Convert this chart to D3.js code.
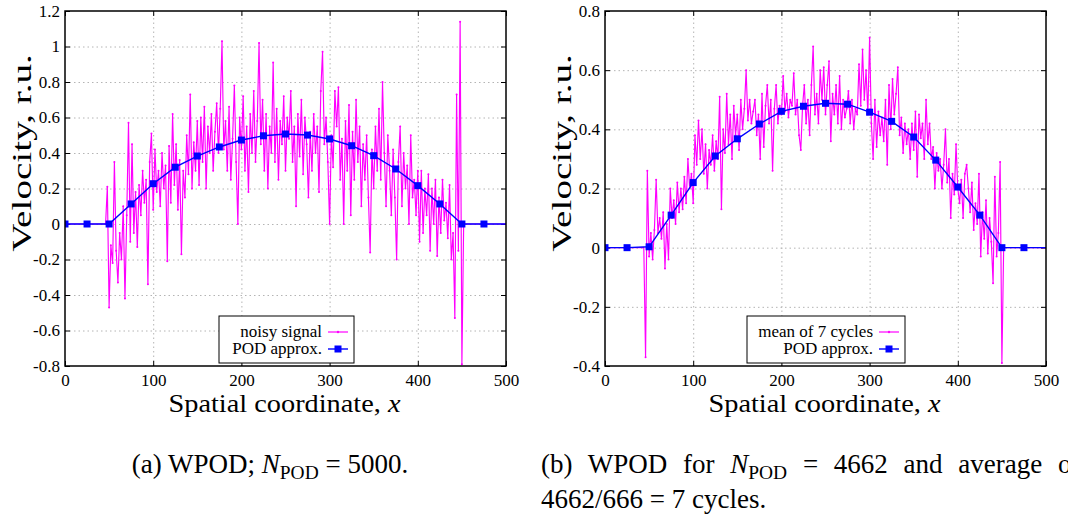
<!DOCTYPE html>
<html><head><meta charset="utf-8">
<script src="https://cdn.jsdelivr.net/npm/d3@7"></script>
<style>
body{margin:0;background:#fff}
svg{display:block;font-family:"Liberation Serif","Times New Roman",serif}
svg text{font-family:"Liberation Serif","Times New Roman",serif}
</style>
</head><body>
<svg id="c" width="1068" height="521"></svg>
<script>
// ---------- data ----------
const xTicks = [0, 100, 200, 300, 400, 500];
const xTickLabels = ["0", "100", "200", "300", "400", "500"];
const yTicksA = [-0.8, -0.6, -0.4, -0.2, 0, 0.2, 0.4, 0.6, 0.8, 1, 1.2];
const yTickLabelsA = ["-0.8", "-0.6", "-0.4", "-0.2", "0", "0.2", "0.4", "0.6", "0.8", "1", "1.2"];
const yTicksB = [-0.4, -0.2, 0, 0.2, 0.4, 0.6, 0.8];
const yTickLabelsB = ["-0.4", "-0.2", "0", "0.2", "0.4", "0.6", "0.8"];

const podX = [0, 25, 50, 75, 100, 125, 150, 175, 200, 225, 250, 275, 300, 325, 350, 375, 400, 425, 450, 475, 500];
const podA = [0, 0, 0, 0.113, 0.227, 0.32, 0.383, 0.434, 0.473, 0.497, 0.507, 0.501, 0.479, 0.441, 0.385, 0.31, 0.216, 0.113, 0, 0, 0];
const podB = [0, 0, 0.003, 0.11, 0.22, 0.31, 0.368, 0.418, 0.461, 0.478, 0.488, 0.485, 0.458, 0.427, 0.374, 0.296, 0.205, 0.11, 0, 0, 0];

// noisy samples start at x = 46, every 2 units, up to x = 450
const noiseStart = 46, noiseStep = 2;
const noiseA = [
  0.0, 0.21, -0.47, -0.12, -0.22, 0.35, -0.15, -0.33, -0.05, -0.2,
  0.1, -0.42, 0.05, 0.57, -0.1, 0.45, -0.05, 0.18, -0.13, 0.22,
  0.05, 0.3, 0.12, 0.25, -0.34, 0.35, 0.51, 0.08, 0.42, 0.18,
  0.3, 0.1, 0.4, 0.2, 0.33, -0.21, 0.44, 0.12, 0.62, 0.22,
  0.45, 0.08, 0.36, -0.17, 0.3, 0.15, 0.5, 0.28, 0.73, 0.2,
  0.46, 0.3, 0.58, 0.22, 0.6, 0.35, 0.66, 0.2, 0.55, 0.4,
  0.62, 0.3, 0.52, 0.68, 0.4, 0.65, 1.03, 0.42, 0.58, 0.3,
  0.66, 0.25, 0.48, 0.78, 0.35, 0.0, 0.6, 0.42, 0.72, 0.3,
  0.55, 0.18, 0.62, 0.4, 0.75, 0.35, 0.58, 1.02, 0.45, 0.7,
  0.3, 0.62, 0.2, 0.55, 0.4, 0.91, 0.35, 0.65, 0.25, 0.58,
  0.45, 0.72, 0.3, 0.6, 0.48, 0.75, 0.35, 0.55, 0.1, 0.62,
  0.38, 0.7, 0.28, 0.6, 0.45, 0.15, 0.52, 0.3, 0.62, 0.4,
  0.55, 0.18, 0.75, 0.97, 0.45, 0.6, 0.35, 0.0, 0.5, 0.32,
  0.75, 0.55, 0.77, 0.25, 0.48, 0.0, 0.58, 0.3, 0.67, 0.05,
  0.52, 0.25, 0.7, 0.35, 0.55, 0.1, 0.45, 0.25, 0.5, 0.15,
  -0.16, 0.42, 0.2, 0.55, 0.3, 0.65, 0.25, 0.8, 0.4, 0.1,
  0.5, 0.3, 0.05, 0.42, 0.15, -0.2, 0.35, 0.55, 0.1, 0.4,
  0.2, 0.33, 0.0, 0.5, 0.15, 0.25, 0.05, 0.3, -0.1, 0.3,
  -0.05, 0.2, 0.05, 0.28, -0.15, 0.2, 0.0, 0.25, -0.18, 0.15,
  -0.05, 0.25, 0.02, 0.12, -0.08, 0.22, -0.2, -0.05, -0.53, 0.73,
  -0.15, 1.14, -0.79
];
const noiseB = [
  -0.37, 0.26, -0.03, 0.05, -0.04, 0.06, 0.23, 0.05, 0.1, 0.03,
  0.12, -0.07, 0.08, -0.04, 0.2, 0.1, 0.16, 0.08, 0.22, 0.12,
  0.2, 0.13, 0.24, 0.15, 0.3, 0.2, 0.25, 0.15, 0.38, 0.28,
  0.43, 0.3, 0.4, 0.25, 0.35, 0.2, 0.33, 0.28, 0.38, 0.26,
  0.36, 0.3, 0.51, 0.13, 0.4, 0.32, 0.52, 0.35, 0.45, 0.3,
  0.48, 0.38, 0.45, 0.33, 0.5, 0.4, 0.47, 0.6, 0.43, 0.5,
  0.42, 0.46, 0.5, 0.38, 0.45, 0.3, 0.52, 0.34, 0.48, 0.55,
  0.42, 0.5, 0.26, 0.47, 0.55, 0.42, 0.48, 0.45, 0.58, 0.46,
  0.52, 0.44, 0.5, 0.48, 0.59, 0.45, 0.5, 0.38, 0.33, 0.48,
  0.55, 0.42, 0.5, 0.38, 0.55, 0.68, 0.45, 0.52, 0.42, 0.6,
  0.5, 0.61, 0.45, 0.55, 0.63, 0.36, 0.52, 0.45, 0.55, 0.42,
  0.58, 0.4, 0.5, 0.44, 0.47, 0.53, 0.42, 0.5, 0.4, 0.47,
  0.45, 0.62, 0.48, 0.67, 0.5, 0.6, 0.45, 0.71, 0.42, 0.3,
  0.5, 0.34, 0.46, 0.38, 0.44, 0.36, 0.5, 0.28, 0.55, 0.4,
  0.57, 0.45, 0.52, 0.61, 0.38, 0.44, 0.32, 0.42, 0.35, 0.4,
  0.3, 0.42, 0.33, 0.46, 0.24, 0.45, 0.37, 0.42, 0.3, 0.5,
  0.35, 0.42, 0.3, 0.34, 0.2, 0.32, 0.26, 0.3, 0.2, 0.28,
  0.4, 0.22, 0.3, 0.1, 0.25, 0.18, 0.35, 0.2, 0.15, 0.23,
  0.1, 0.25, 0.28, 0.2, 0.12, 0.22, 0.06, 0.15, 0.08, 0.25,
  -0.03, 0.12, 0.03, 0.16, -0.02, 0.1, 0.02, -0.12, 0.24, -0.03,
  0.05, 0.29, -0.39
];

const legendA = ["noisy signal", "POD approx."];
const legendB = ["mean of 7 cycles", "POD approx."];

// ---------- drawing ----------
const svg = d3.select("#c");
const TOP = 11, BOTTOM = 366;
const MAG = "#ff00ff", BLUE = "#0000ff";
const SERIF = "'Liberation Serif', 'Times New Roman', serif";

function panel(cfg) {
  const x = d3.scaleLinear().domain([0, 500]).range([cfg.left, cfg.right]);
  const y = d3.scaleLinear().domain([cfg.yTicks[0], cfg.yTicks[cfg.yTicks.length - 1]]).range([BOTTOM, TOP]);
  const g = svg.append("g");
  const w = cfg.right - cfg.left, h = BOTTOM - TOP;

  // grid
  const grid = g.append("g").attr("class", "grid");
  grid.append("g").attr("transform", `translate(${cfg.left},0)`)
    .call(d3.axisLeft(y).tickValues(cfg.yTicks.slice(1, -1)).tickSize(-w).tickFormat(""));
  grid.append("g").attr("transform", `translate(0,${BOTTOM})`)
    .call(d3.axisBottom(x).tickValues(xTicks.slice(1, -1)).tickSize(-h).tickFormat(""));
  grid.selectAll(".domain").remove();
  grid.selectAll("line").attr("stroke", "#b4b4b4").attr("stroke-width", 1).attr("stroke-dasharray", "1.5,3");

  // axes (inward ticks, all four sides)
  const ax = g.append("g");
  const axes = [
    ax.append("g").attr("transform", `translate(${cfg.left},0)`)
      .call(d3.axisLeft(y).tickValues(cfg.yTicks).tickSize(-5).tickPadding(5)
        .tickFormat((d, i) => cfg.yLabels[i])),
    ax.append("g").attr("transform", `translate(${cfg.right},0)`)
      .call(d3.axisRight(y).tickValues(cfg.yTicks).tickSize(-5).tickFormat("")),
    ax.append("g").attr("transform", `translate(0,${BOTTOM})`)
      .call(d3.axisBottom(x).tickValues(xTicks).tickSize(-5).tickPadding(8)
        .tickFormat((d, i) => xTickLabels[i])),
    ax.append("g").attr("transform", `translate(0,${TOP})`)
      .call(d3.axisTop(x).tickValues(xTicks).tickSize(-5).tickFormat(""))
  ];
  axes.forEach(a => a.attr("font-family", null).attr("font-size", null));
  ax.selectAll(".domain").remove();
  ax.selectAll("line").attr("stroke", "#000").attr("stroke-width", 1);
  ax.selectAll("text").style("font-family", SERIF).style("font-size", "17px").attr("fill", "#000");

  // clip
  const cid = "clip" + cfg.id;
  svg.append("clipPath").attr("id", cid).append("rect")
    .attr("x", cfg.left).attr("y", TOP - 2).attr("width", w).attr("height", h + 4);

  // noisy series (zero outside the sampled window)
  const pts = [[0, 0], [noiseStart - noiseStep, 0]]
    .concat(cfg.noise.map((v, i) => [noiseStart + i * noiseStep, v]))
    .concat([[noiseStart + cfg.noise.length * noiseStep, 0], [500, 0]]);
  const line = d3.line().x(d => x(d[0])).y(d => y(d[1]));
  const dg = g.append("g").attr("clip-path", `url(#${cid})`);
  dg.append("path").datum(pts).attr("d", line).attr("fill", "none")
    .attr("stroke", MAG).attr("stroke-width", 1.15).attr("stroke-linejoin", "round");
  dg.append("g").selectAll("circle").data(pts.slice(2, -2)).join("circle")
    .attr("cx", d => x(d[0])).attr("cy", d => y(d[1])).attr("r", 1).attr("fill", MAG);

  // POD series
  const pod = podX.map((v, i) => [v, cfg.pod[i]]);
  dg.append("path").datum(pod).attr("d", line).attr("fill", "none")
    .attr("stroke", BLUE).attr("stroke-width", 1.4);
  dg.append("g").selectAll("rect").data(pod.filter(d => d[0] < 500)).join("rect")
    .attr("x", d => x(d[0]) - 3.5).attr("y", d => y(d[1]) - 3.5)
    .attr("width", 7).attr("height", 7).attr("fill", BLUE);

  // frame
  g.append("rect").attr("x", cfg.left).attr("y", TOP).attr("width", w).attr("height", h)
    .attr("fill", "none").attr("stroke", "#000").attr("stroke-width", 1.5);

  // axis titles
  const cx = (cfg.left + cfg.right) / 2;
  const xt = g.append("text").attr("transform", `translate(${cx - 1},412) scale(1.09,1)`)
    .attr("text-anchor", "middle").attr("font-size", 26);
  xt.append("tspan").text("Spatial coordinate, ");
  xt.append("tspan").attr("font-style", "italic").text("x");
  g.append("text").attr("transform", `translate(${cfg.left - 34},153) rotate(-90) scale(1.4,1)`)
    .attr("text-anchor", "middle").attr("font-size", 28).text("Velocity, r.u.");

  // legend
  const lg = g.append("g");
  lg.append("rect").attr("x", cfg.legX0).attr("y", 316).attr("width", cfg.legX1 - cfg.legX0).attr("height", 47)
    .attr("fill", "#fff").attr("stroke", "#000").attr("stroke-width", 1);
  const tx = cfg.legX1 - 32;
  cfg.legend.forEach((t, i) => {
    const yy = 332 + i * 17;
    lg.append("text").attr("x", tx).attr("y", yy + 5).attr("text-anchor", "end")
      .attr("font-size", 17).text(t);
    lg.append("line").attr("x1", tx + 6).attr("x2", tx + 26).attr("y1", yy).attr("y2", yy)
      .attr("stroke", i === 0 ? MAG : BLUE).attr("stroke-width", i === 0 ? 1.2 : 1.4);
    if (i === 1) lg.append("rect").attr("x", tx + 12.5).attr("y", yy - 3.5).attr("width", 7).attr("height", 7).attr("fill", BLUE);
    else lg.append("circle").attr("cx", tx + 16).attr("cy", yy).attr("r", 1.2).attr("fill", MAG);
  });
}

panel({id: "a", left: 65, right: 506, yTicks: yTicksA, yLabels: yTickLabelsA,
  noise: noiseA, pod: podA, legend: legendA, legX0: 219, legX1: 354});
panel({id: "b", left: 605, right: 1046, yTicks: yTicksB, yLabels: yTickLabelsB,
  noise: noiseB, pod: podB, legend: legendB, legX0: 747, legX1: 905});

// captions
function sub(t, main, subText, fs) {
  t.append("tspan").attr("font-style", "italic").text(main);
  t.append("tspan").attr("font-size", fs * 0.72).attr("dy", fs * 0.22).text(subText);
}
const cfs = 27;
const ca = svg.append("text").attr("x", 270).attr("y", 473).attr("text-anchor", "middle").attr("font-size", cfs);
ca.append("tspan").text("(a) WPOD; ");
sub(ca, "N", "POD", cfs);
ca.append("tspan").attr("dy", -cfs * 0.22).text(" = 5000.");

const cb = svg.append("text").attr("x", 541).attr("y", 473).attr("font-size", cfs).attr("word-spacing", 9);
cb.append("tspan").text("(b) WPOD for ");
sub(cb, "N", "POD", cfs);
cb.append("tspan").attr("dy", -cfs * 0.22).text(" = 4662 and average of");
svg.append("text").attr("x", 541).attr("y", 508).attr("font-size", cfs).text("4662/666 = 7 cycles.");
</script>
</body></html>
